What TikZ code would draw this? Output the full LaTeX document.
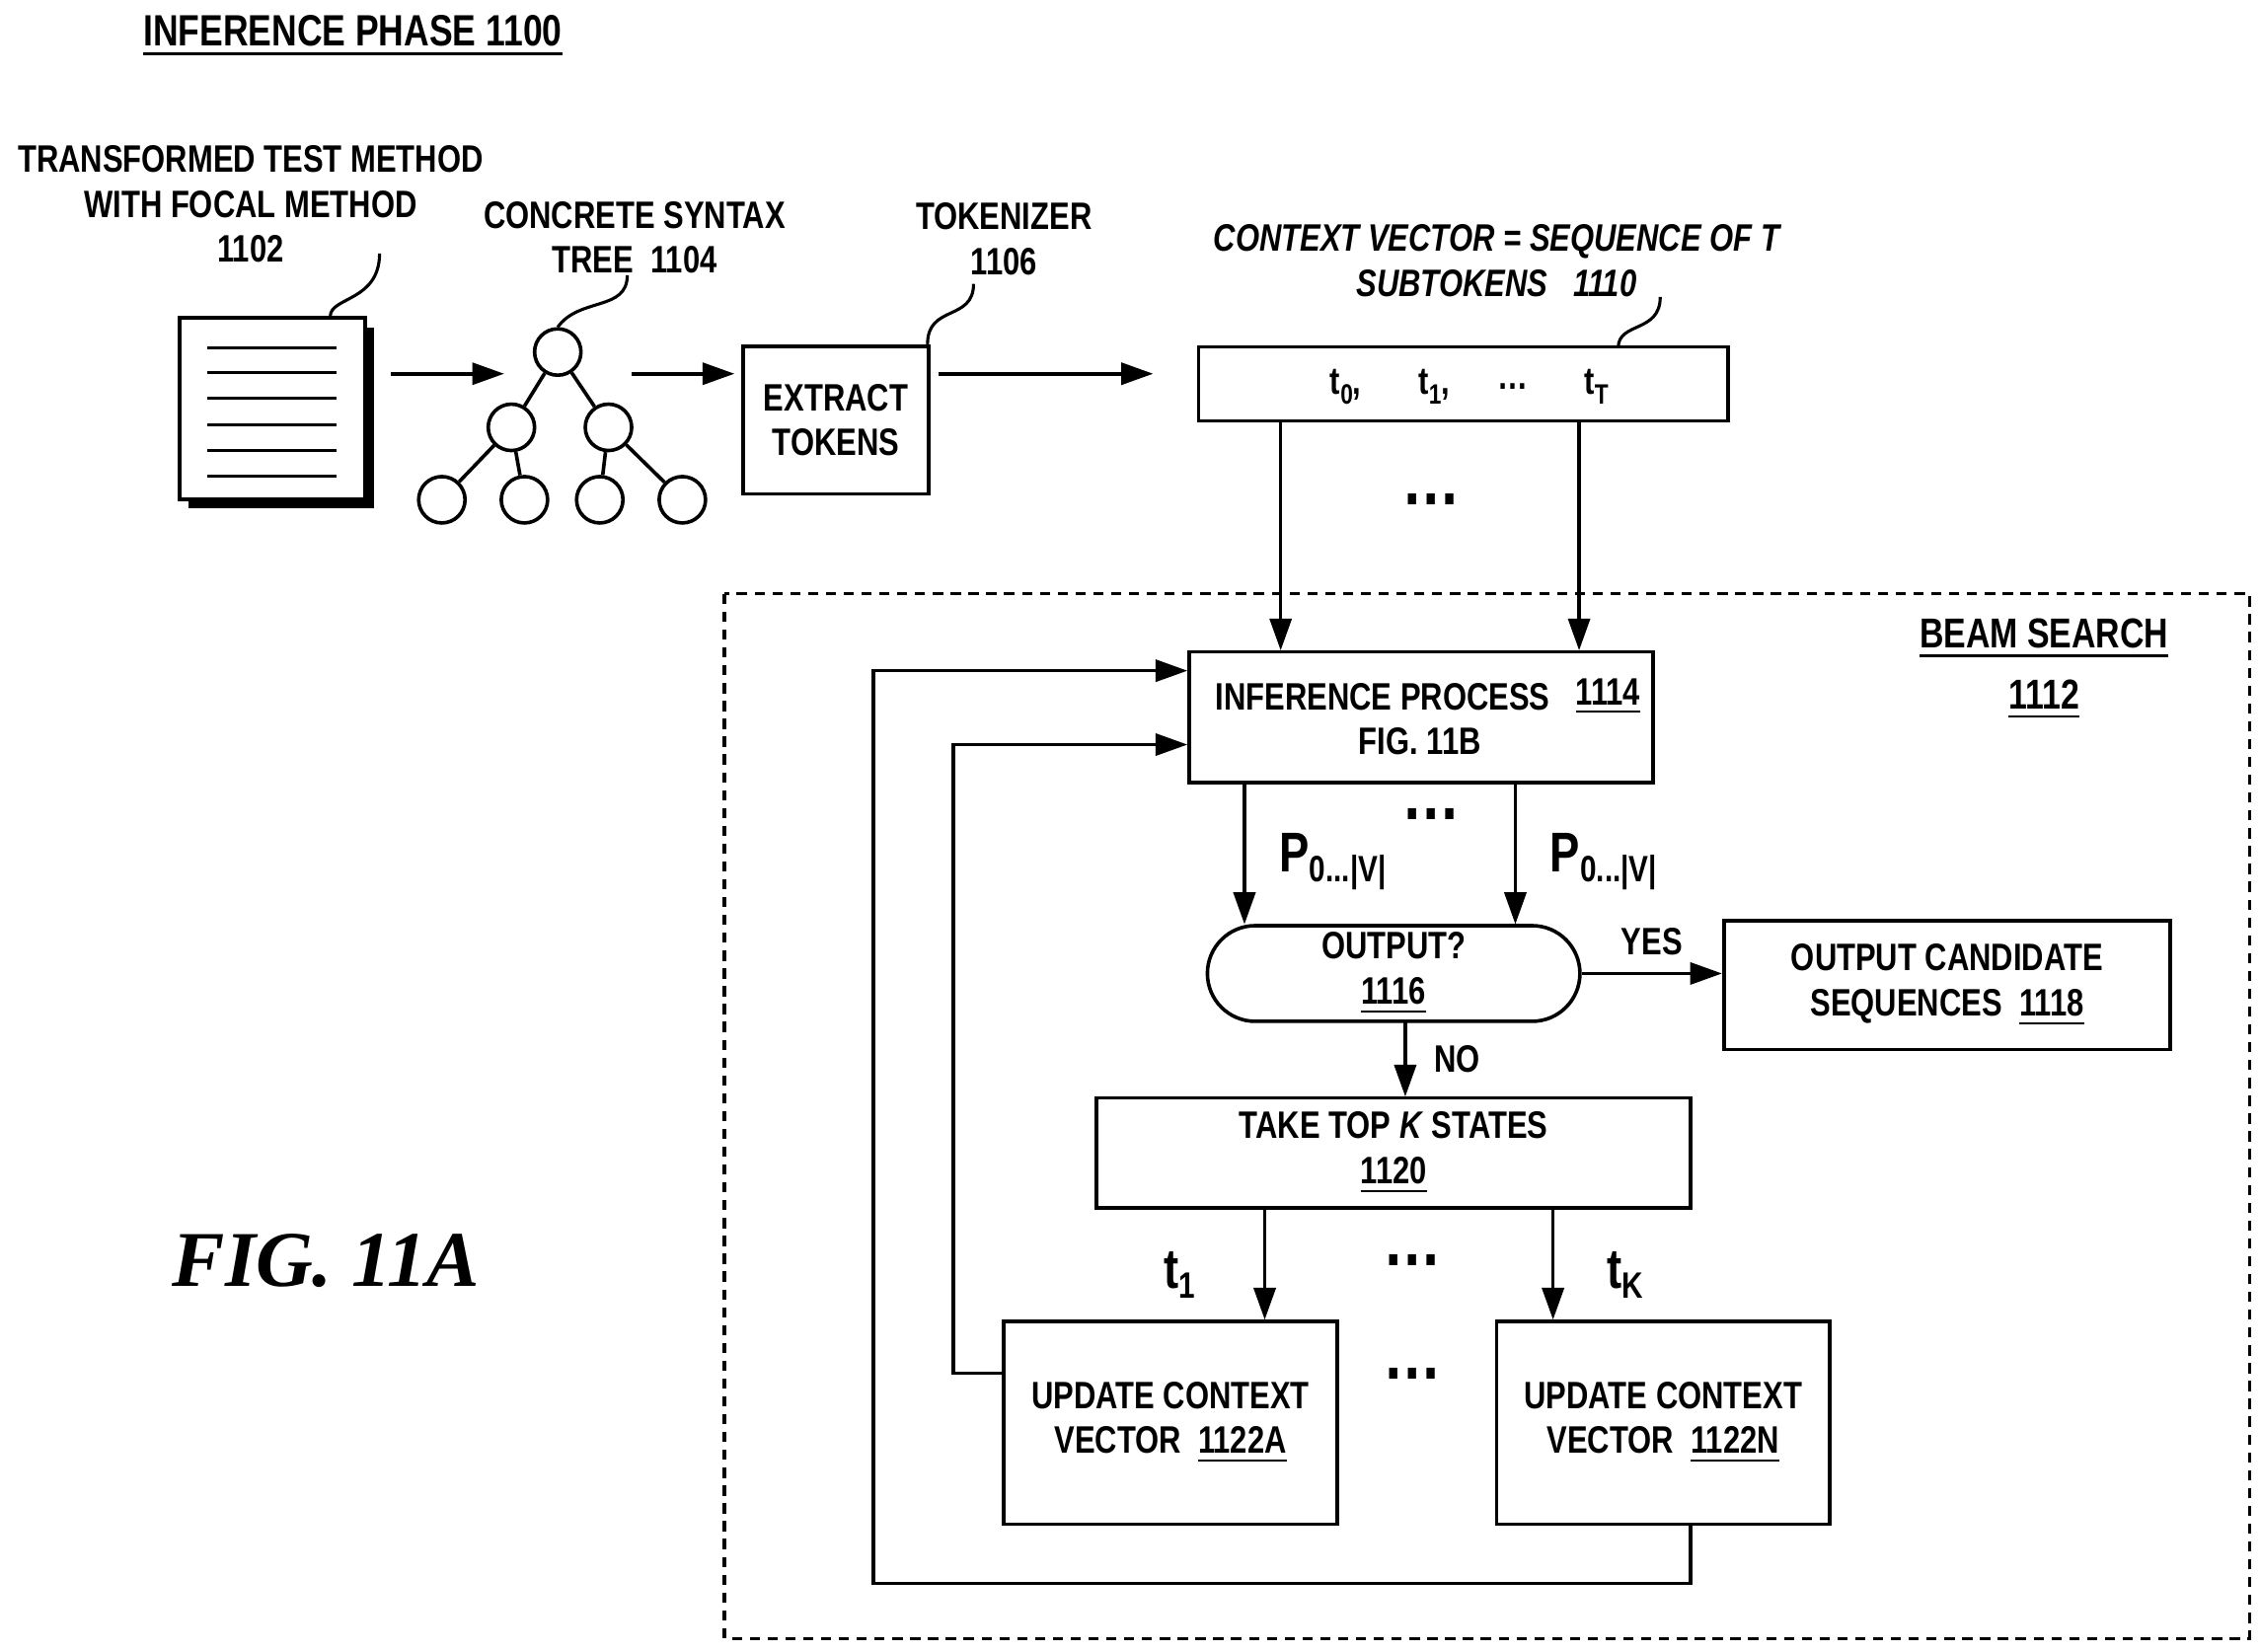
\documentclass[tikz,border=0pt]{standalone}
\usepackage{fontspec}
\setmainfont{Liberation Sans}[FakeStretch=0.8]
\newfontfamily\figfont{Liberation Serif}
\usetikzlibrary{arrows.meta,shapes.misc}
\newcommand{\sub}[1]{\raisebox{-2pt}{\fontsize{5.5}{6}\selectfont #1}}
\newcommand{\bigsub}[1]{\raisebox{-2pt}{\fontsize{7.2}{8}\selectfont #1}}
\begin{document}
\begin{tikzpicture}[x=0.01cm,y=-0.01cm,line width=0.7pt,
 every node/.style={font=\fontsize{7.5}{8.8}\selectfont\bfseries,align=center},
 box/.style={draw,inner sep=0pt},
 arr/.style={-{Triangle[length=2.2mm,width=1.5mm]}},
 sq/.style={line width=0.6pt},
 circ/.style={draw,circle,minimum size=0.32cm,inner sep=0pt,fill=white}]
\useasboundingbox (0,0) rectangle (1560,1140);
\node[anchor=west,font=\fontsize{8.6}{10}\selectfont\bfseries] (title) at (86,25) {\underline{INFERENCE PHASE 1100}};
\node (l1102) at (173,141) {TRANSFORMED TEST METHOD\\WITH FOCAL METHOD\\1102};
% document
\fill (130,226) rectangle (258,351);
\node[box,fill=white,minimum width=1.28cm,minimum height=1.25cm] (doc) at (188,282) {};
\foreach \y in {240,257,275,293,311,329} \draw[line width=0.6pt] (143,\y)--(232,\y);
\draw[sq] (doc.north) ++(40,0) coordinate (d1) .. controls (228,205) and (262,208) .. (262,175);
% tree
\node[circ] (r) at (385,243) {};
\node[circ] (m1) at (353,295) {};
\node[circ] (m2) at (420,295) {};
\node[circ] (a1) at (305,345) {};
\node[circ] (a2) at (362,345) {};
\node[circ] (a3) at (414,345) {};
\node[circ] (a4) at (471,345) {};
\draw (r)--(m1) (r)--(m2) (m1)--(a1) (m1)--(a2) (m2)--(a3) (m2)--(a4);
\node (l1104) at (438,164) {CONCRETE SYNTAX\\TREE\ \ 1104};
\draw[sq] (r.north) .. controls (400,205) and (433,215) .. (433,190);
\coordinate (t0) at (270,258); \coordinate (t1) at (348,258);
\draw[arr] (t0)--(t1);
\coordinate (t2) at (436,258); \coordinate (t3) at (507,258);
\draw[arr] (t2)--(t3);
\node[box,minimum width=1.28cm,minimum height=1.02cm] (ext) at (577,290) {EXTRACT\\TOKENS};
\node (l1106) at (693,165) {TOKENIZER\\1106};
\draw[sq] (ext.north east) ++(-2,0) .. controls (640,210) and (672,222) .. (672,196);
\coordinate (t4) at (648,258); \coordinate (t5) at (796,258);
\draw[arr] (t4)--(t5);
\node[box,minimum width=3.65cm,minimum height=0.51cm] (cv) at (1010,265) {};
\node at (929,267) {t\sub{0},};
\node at (990,267) {t\sub{1},};
\node at (1044,267) {\dots};
\node at (1102,267) {t\sub{T}};
\node (l1110) at (1033,180) {\itshape CONTEXT VECTOR = SEQUENCE OF T\\\itshape SUBTOKENS\ \ \ 1110};
\draw[sq] (1117,240) .. controls (1117,222) and (1146,230) .. (1146,205);
\node (dots1) at (988,345) {\Large\dots};
% beam search
\draw[dash pattern=on 2pt off 1.5pt,line width=0.6pt] (500,410) rectangle (1553,1131);
\node[font=\fontsize{8.2}{9}\selectfont\bfseries] (bs) at (1411,462) {\underline{BEAM SEARCH}\\[3pt]\underline{1112}};
\node[box,minimum width=3.2cm,minimum height=0.9cm] (inf) at (981,495) {};
\node[anchor=west] at (826,481) {INFERENCE PROCESS};
\node at (1110,481) {\underline{1114}};
\node at (980,512) {FIG. 11B};
\draw[arr] (884,291)--(884,449);
\draw[arr] (1090,291)--(1090,449);
\node[box,rounded rectangle,minimum width=2.57cm,minimum height=0.66cm] (out) at (962,672) {OUTPUT?\\\underline{1116}};
\draw[arr] (859,540)--(859,638);
\draw[arr] (1046,540)--(1046,638);
\node at (920,595) {\fontsize{11}{12}\selectfont P\bigsub{0...|V|}};
\node at (1107,595) {\fontsize{11}{12}\selectfont P\bigsub{0...|V|}};
\node at (988,562) {\Large\dots};
\node[box,minimum width=3.08cm,minimum height=0.89cm] (oc) at (1344,680) {OUTPUT CANDIDATE\\SEQUENCES\ \ \underline{1118}};
\draw[arr] (out.east |- 0,672)--(oc.west |- 0,672) node[midway,above] {YES};
\node[box,minimum width=4.1cm,minimum height=0.76cm] (top) at (962,796) {TAKE TOP \textit{K} STATES\\\underline{1120}};
\draw[arr] (970,705)--(970,757) node[midway,right=2pt] {NO};
\node[box,minimum width=2.3cm,minimum height=1.4cm] (ua) at (808,982) {UPDATE CONTEXT\\VECTOR\ \ \underline{1122A}};
\node[box,minimum width=2.3cm,minimum height=1.4cm] (un) at (1148,982) {UPDATE CONTEXT\\VECTOR\ \ \underline{1122N}};
\draw[arr] (873,834)--(873,911);
\draw[arr] (1072,834)--(1072,911);
\node at (814,880) {\fontsize{11}{12}\selectfont t\bigsub{1}};
\node at (1122,880) {\fontsize{11}{12}\selectfont t\bigsub{K}};
\node at (975,870) {\Large\dots};
\node at (975,948) {\Large\dots};
\draw[arr] (ua.west |- 0,948) -- (658,948) -- (658,514) -- (inf.west |- 0,514);
\draw[arr] (un.south -| 1167,0) -- (1167,1093) -- (603,1093) -- (603,463) -- (inf.west |- 0,463);
\node (fig) at (225,870) {\figfont\bfseries\itshape\fontsize{15.5}{18}\selectfont FIG. 11A};
\end{tikzpicture}
\end{document}
